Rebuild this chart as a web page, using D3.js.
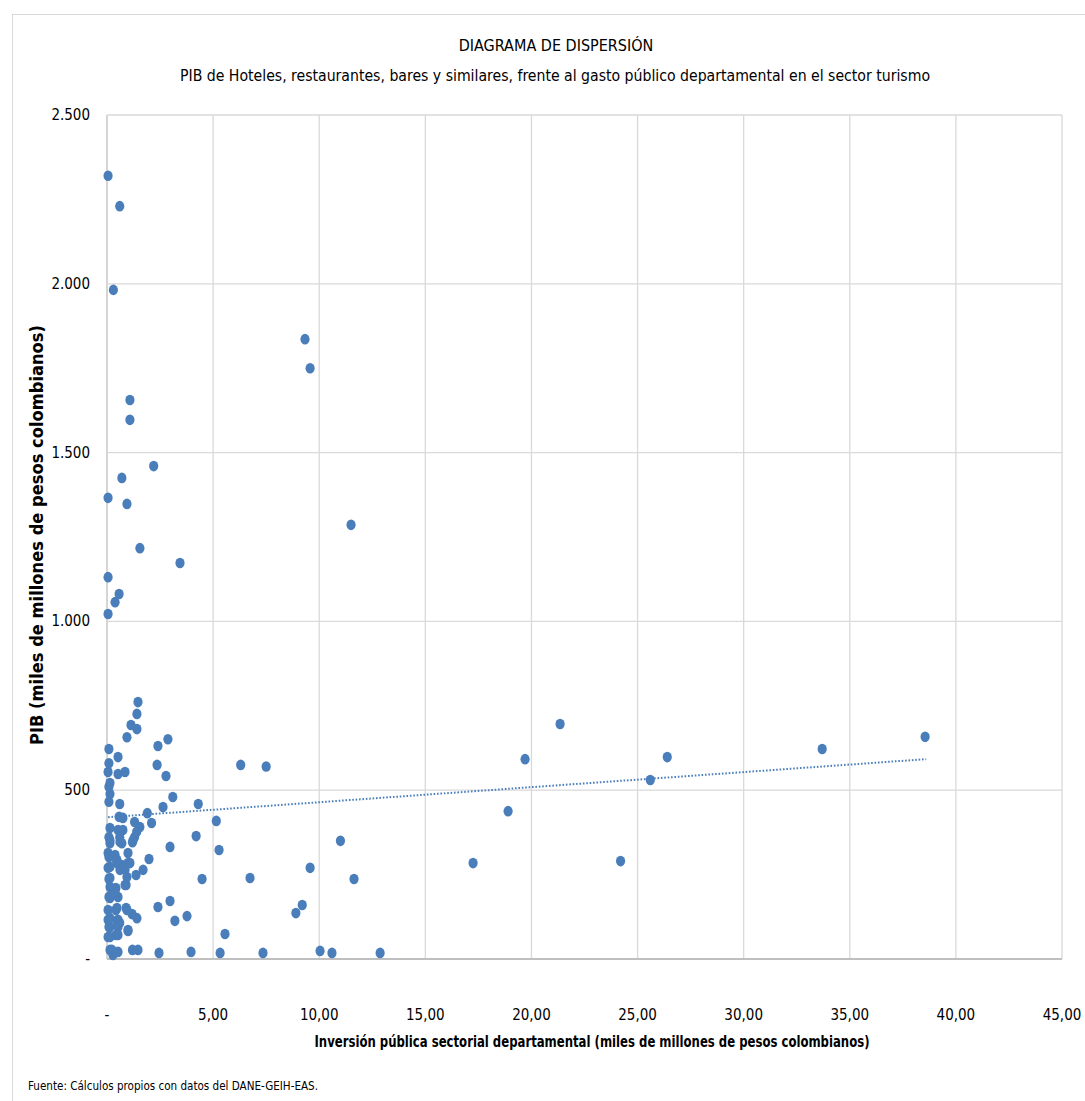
<!DOCTYPE html>
<html>
<head>
	<meta http-equiv="Content-Type" content="text/html; charset=utf-8">
	<title>Diagrama de dispersión</title>
	<script type="text/javascript" src="https://cdn.jsdelivr.net/npm/d3@7/dist/d3.min.js"></script>
	<style type="text/css">
		body{ margin:0; background:#fff; }
		text{ font-family:"DejaVu Sans Condensed","Liberation Sans Narrow","Liberation Sans",sans-serif; fill:#000; }
	</style>
</head>
<body>
<div id="chart"></div>
<script type="text/javascript">

// inversión pública (miles de millones)
var inversion = [
	0.05, 0.6, 0.3, 9.33, 9.57, 1.08, 1.08, 0.7, 2.2, 0.05, 0.94, 11.5, 1.55, 3.44, 0.05, 0.57, 0.38, 0.05,
	6.3, 7.5, 4.3, 5.15, 4.2, 5.28, 11.0, 4.48, 6.74, 9.57, 11.64, 17.25, 3.77, 8.9, 9.2, 5.56,
	3.96, 5.33, 7.35, 10.04, 10.6, 12.87,
	21.35, 19.7, 18.9, 24.2, 25.6, 26.4, 33.7, 38.55,
	1.46, 1.41, 1.13, 1.41, 0.94, 2.87, 2.4, 0.09, 0.52, 2.36, 0.09, 0.05, 0.52, 0.85, 2.78,
	0.14, 0.09, 0.14, 0.09, 3.1, 0.6, 2.64, 1.9, 0.57, 0.75, 2.1, 1.3, 1.55, 1.4,
	0.14, 0.52, 0.75, 0.09, 0.6, 1.3, 0.14, 0.7, 1.2, 2.97, 0.99, 0.09, 0.38, 0.47, 0.14,
	0.7, 1.08, 1.98, 0.85, 1.7, 1.37, 0.94, 0.09, 0.9, 0.14, 0.42, 0.09, 0.52, 2.97, 2.4,
	0.9, 0.05, 0.42, 1.18, 1.41, 3.2, 0.14, 0.47, 0.6, 0.09, 0.99, 0.42, 0.05,
	0.23, 0.52, 1.2, 1.46, 0.28, 2.45,
	0.14, 0.61, 1.23, 0.05, 0.38, 0.47, 0.99, 0.05, 0.61, 0.14, 0.85, 0.38, 0.14,
	0.47, 0.94, 0.05, 0.52, 0.14, 0.52, 0.99, 0.14, 0.52, 0.14
];
// PIB (miles de millones)
var pib = [
	2320, 2230, 1982, 1836, 1750, 1656, 1597, 1425, 1460, 1366, 1348, 1286, 1217, 1173, 1131, 1081, 1057, 1022,
	575, 570, 459, 409, 364, 323, 350, 237, 240, 270, 237, 284, 127, 136, 160, 74,
	21, 18, 18, 24, 18, 18,
	696, 592, 438, 290, 530, 598, 622, 658,
	761, 726, 693, 681, 657, 651, 631, 622, 598, 575, 580, 554, 548, 554, 542,
	521, 510, 489, 466, 480, 459, 450, 432, 421, 418, 403, 406, 391, 377,
	388, 382, 382, 361, 361, 361, 343, 343, 346, 332, 314, 302, 299, 284, 273,
	278, 284, 296, 264, 264, 249, 243, 237, 219, 213, 210, 184, 184, 172, 154,
	151, 145, 145, 133, 121, 113, 121, 113, 107, 95, 83, 71, 65,
	27, 21, 27, 27, 12, 18,
	352, 347, 352, 314, 308, 293, 284, 270, 264, 240, 219, 204, 181,
	151, 145, 116, 116, 95, 95, 86, 65, 71, 27
];

// línea de tendencia (lineal)
var trendX = [0.05, 38.6];
var trendY = [420, 592];

var xTicks = [0, 5, 10, 15, 20, 25, 30, 35, 40, 45];
var xTickLabels = ["-", "5,00", "10,00", "15,00", "20,00", "25,00", "30,00", "35,00", "40,00", "45,00"];
var yTicks = [0, 500, 1000, 1500, 2000, 2500];
var yTickLabels = ["-", "500", "1.000", "1.500", "2.000", "2.500"];

var width = 1085, height = 1101;
var mLeft = 107, mRight = 1062, mTop = 115, mBottom = 959;
var blue = "#4a7ebb";

var svg = d3.select("#chart").append("svg")
	.attr("width", width)
	.attr("height", height);

// marco del gráfico
svg.append("rect")
	.attr("x", 12.5).attr("y", 14.5)
	.attr("width", width).attr("height", height)
	.attr("fill", "none")
	.attr("stroke", "#d9d9d9");

var x = d3.scaleLinear().domain([0, 45]).range([mLeft, mRight]);
var y = d3.scaleLinear().domain([0, 2500]).range([mBottom, mTop]);

// rejilla
svg.append("g").selectAll("line")
	.data(xTicks).enter()
	.append("line")
	.attr("x1", function(d){ return x(d); })
	.attr("x2", function(d){ return x(d); })
	.attr("y1", mTop).attr("y2", mBottom)
	.attr("stroke", function(d){ return d == 0 ? "#bfbfbf" : "#d9d9d9"; })
	.attr("stroke-width", 1.3);

svg.append("g").selectAll("line")
	.data(yTicks).enter()
	.append("line")
	.attr("x1", mLeft).attr("x2", mRight)
	.attr("y1", function(d){ return y(d); })
	.attr("y2", function(d){ return y(d); })
	.attr("stroke", function(d){ return d == 0 ? "#bfbfbf" : "#d9d9d9"; })
	.attr("stroke-width", function(d){ return d == 0 ? 2 : 1.3; });

// etiquetas de ejes
svg.append("g").selectAll("text")
	.data(yTicks).enter()
	.append("text")
	.attr("x", 90)
	.attr("y", function(d){ return y(d) + 5; })
	.attr("text-anchor", "end")
	.style("font-size", "15px")
	.text(function(d, i){ return yTickLabels[i]; });

svg.append("g").selectAll("text")
	.data(xTicks).enter()
	.append("text")
	.attr("x", function(d){ return x(d); })
	.attr("y", 1020)
	.attr("text-anchor", "middle")
	.style("font-size", "15px")
	.text(function(d, i){ return xTickLabels[i]; });

// tendencia
svg.append("line")
	.attr("x1", x(trendX[0])).attr("y1", y(trendY[0]))
	.attr("x2", x(trendX[1])).attr("y2", y(trendY[1]))
	.attr("stroke", blue)
	.attr("stroke-width", 2)
	.attr("stroke-dasharray", "1.6,1.8");

// puntos
var points = inversion.map(function(v, i){ return [v, pib[i]]; });
svg.append("g").selectAll("ellipse")
	.data(points).enter()
	.append("ellipse")
	.attr("cx", function(d){ return x(d[0]); })
	.attr("cy", function(d){ return y(d[1]); })
	.attr("rx", 4.6)
	.attr("ry", 5.3)
	.attr("fill", blue);

// títulos
svg.append("text")
	.attr("x", 556).attr("y", 51)
	.attr("text-anchor", "middle")
	.style("font-size", "16px")
	.text("DIAGRAMA  DE DISPERSIÓN");

svg.append("text")
	.attr("x", 555).attr("y", 81)
	.attr("text-anchor", "middle")
	.attr("textLength", 750)
	.attr("lengthAdjust", "spacingAndGlyphs")
	.style("font-size", "16px")
	.text("PIB de Hoteles, restaurantes,  bares y similares, frente  al gasto público departamental  en el sector turismo");

svg.append("text")
	.attr("transform", "translate(43," + 535 + ") rotate(-90)")
	.attr("text-anchor", "middle")
	.attr("textLength", 420)
	.attr("lengthAdjust", "spacingAndGlyphs")
	.style("font-size", "17px")
	.style("font-weight", "bold")
	.text("PIB (miles de millones de pesos colombianos)");

svg.append("text")
	.attr("x", 592).attr("y", 1047)
	.attr("text-anchor", "middle")
	.attr("textLength", 555)
	.attr("lengthAdjust", "spacingAndGlyphs")
	.style("font-size", "16px")
	.style("font-weight", "bold")
	.text("Inversión pública sectorial departamental (miles de millones de pesos colombianos)");

svg.append("text")
	.attr("x", 28).attr("y", 1090)
	.attr("textLength", 290)
	.attr("lengthAdjust", "spacingAndGlyphs")
	.style("font-size", "12px")
	.text("Fuente:  Cálculos propios con datos del DANE-GEIH-EAS.");

</script>
</body>
</html>
